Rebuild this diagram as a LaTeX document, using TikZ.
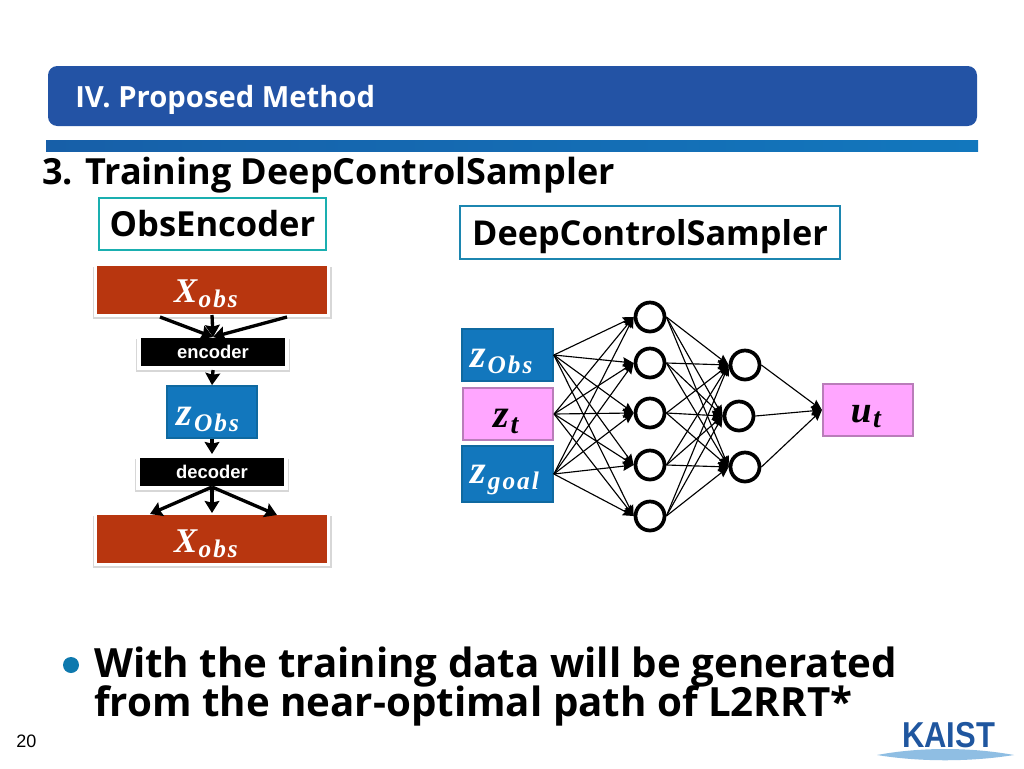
\documentclass[tikz,border=0pt]{standalone}
\usepackage{fontspec}
\usetikzlibrary{arrows.meta,shadows,calc}
\setmainfont{Open Sans}
\newfontfamily\arialf{Liberation Sans}
\newfontfamily\mathf{Liberation Serif}
\definecolor{hdblue}{HTML}{2353A5}
\definecolor{redbox}{HTML}{B8360F}
\definecolor{bluebox}{HTML}{1277BD}
\definecolor{blueedge}{HTML}{0F69A0}
\definecolor{pinkbox}{HTML}{FFA6FF}
\definecolor{pinkedge}{HTML}{B97DB9}
\definecolor{tealedge}{HTML}{1AAFB0}
\definecolor{sampedge}{HTML}{1C86B0}
\definecolor{kaist}{HTML}{1F569F}
\definecolor{kaistl}{HTML}{8FBEE3}
\definecolor{barleft}{HTML}{175FA8}
\def\p{0.75pt}
\newcommand{\mvar}[5][0pt]{\raisebox{#1}[0pt][0pt]{\mathf\bfseries\itshape\fontsize{#4}{#4}\selectfont #2\kern0.04em\raisebox{-0.16em}{\fontsize{#5}{#5}\selectfont\addfontfeature{LetterSpace=8}#3}}}
\tikzset{
  x=0.75pt,y=-0.75pt,
  titlebox/.style={draw=#1,line width=1.7pt,fill=white,inner sep=0pt,font=\bfseries},
  redblock/.style={fill=redbox,draw=white,line width=2pt,inner sep=0pt,minimum width=233*\p,minimum height=51*\p,text=white,
    general shadow={shadow scale=1.025,shadow xshift=0.3pt,shadow yshift=-2.4pt,opacity=.22,fill=black!70}},
  blackblock/.style={fill=black,draw=white,line width=3pt,inner sep=0pt,minimum width=148*\p,minimum height=32*\p,text=white,
    font=\arialf\bfseries\fontsize{13.8}{13.8}\selectfont,
    general shadow={shadow scale=1.04,shadow xshift=0.3pt,shadow yshift=-2.4pt,opacity=.22,fill=black!70}},
  bluevar/.style={fill=bluebox,draw=blueedge,line width=1.3pt,inner sep=0pt,text=white},
  pinkvar/.style={fill=pinkbox,draw=pinkedge,line width=1.6pt,inner sep=0pt,text=black},
  neuron/.style={circle,draw=black,fill=white,line width=2.8pt,minimum size=29*\p,inner sep=0pt},
  thickarrow/.style={line width=2.5pt,-{Stealth[length=9pt,width=11pt,inset=1.2pt]}},
  thinarrow/.style={line width=0.85pt,-{Stealth[length=8pt,width=7pt,inset=1pt]}},
  plain/.style={anchor=base west,inner sep=0pt},
}
\begin{document}
\begin{tikzpicture}
\useasboundingbox (0,0) rectangle (1024,768);
\fill[white] (0,0) rectangle (1024,768);
% header
\node[fill=hdblue,rounded corners=7pt,minimum width=929*\p,minimum height=60*\p,inner sep=0pt] (header) at (512.5,96) {};
\node[plain,text=white,font=\bfseries\fontsize{21.9}{21.9}\selectfont] (headtext) at (75,107) {IV. Proposed Method};
\node[left color=barleft,right color=bluebox,minimum width=932*\p,minimum height=11*\p,inner sep=0pt] (bar) at (512,145.5) {};
\node[plain,font=\bfseries\fontsize{27}{27}\selectfont] (subtitle) at (42,184) {3. Training DeepControlSampler};
% title boxes
\node[titlebox=tealedge,minimum width=227*\p,minimum height=52*\p] (obstitle) at (212.5,224) {\raisebox{-9.5pt}[0pt][0pt]{\fontsize{25.9}{25.9}\selectfont ObsEncoder}};
\node[titlebox=sampedge,minimum width=380*\p,minimum height=53*\p] (samptitle) at (650,232.5) {\raisebox{-9.5pt}[0pt][0pt]{\fontsize{25.7}{25.7}\selectfont DeepControlSampler}};
% left stack
\node[redblock] (xtop) at (212,290) {\hspace*{-9pt}\mvar[-9pt]{X}{obs}{26}{19}};
\node[blackblock] (enc) at (213,352) {encoder};
\node[bluevar,minimum width=90*\p,minimum height=52*\p] (zleft) at (212,412) {\hspace*{-6pt}\mvar[-9.75pt]{z}{Obs}{30}{19}};
\node[blackblock] (dec) at (212,472) {decoder};
\node[redblock] (xbot) at (212,539) {\hspace*{-9pt}\mvar[-9.75pt]{X}{obs}{26}{19}};
\coordinate (ta) at (160,317);
\coordinate (tb) at (212,315);
\coordinate (tc) at (287,317);
\coordinate (tin) at (213,337);
\coordinate (tl) at (150,514);
\coordinate (tm) at (212,513);
\coordinate (tr) at (277,515);
\coordinate (dout) at (212,487);
\draw[thickarrow] (ta) -- (tin);
\draw[thickarrow] (tb) -- (tin);
\draw[thickarrow] (tc) -- (tin);
\draw[thickarrow] (enc.south) -- (zleft.north);
\draw[thickarrow] (zleft.south) -- (dec.north);
\draw[thickarrow] (dout) -- (tl);
\draw[thickarrow] (dout) -- (tm);
\draw[thickarrow] (dout) -- (tr);
% right network
\node[bluevar,minimum width=91*\p,minimum height=52*\p] (in1) at (507.5,355) {\hspace*{-9pt}\mvar[-9pt]{z}{Obs}{30}{19}};
\node[pinkvar,minimum width=90*\p,minimum height=52*\p] (in2) at (508,414) {\hspace*{-3pt}\mvar[-9.75pt]{z}{t}{30}{21}};
\node[bluevar,minimum width=91*\p,minimum height=56*\p] (in3) at (507.5,474) {\hspace*{-4pt}\mvar[-6.75pt]{z}{goal}{30}{19}};
\node[neuron] (a1) at (650,317) {};
\node[neuron] (a2) at (650,363) {};
\node[neuron] (a3) at (650,413) {};
\node[neuron] (a4) at (650,465) {};
\node[neuron] (a5) at (650,516) {};
\node[neuron] (b1) at (745,365) {};
\node[neuron] (b2) at (739,416) {};
\node[neuron] (b3) at (745,467) {};
\node[pinkvar,minimum width=90*\p,minimum height=52*\p] (out) at (868,410) {\hspace*{-3pt}\mvar[-9pt]{u}{t}{28}{21}};
\foreach \i in {1,2,3} \foreach \j in {1,...,5} \draw[thinarrow] (in\i.east) -- (a\j.west);
\foreach \i in {1,...,5} \foreach \j in {1,2,3} \draw[thinarrow] (a\i.east) -- (b\j.west);
\foreach \j in {1,2,3} \draw[thinarrow] (b\j.east) -- (out.west);
% bullet
\node[circle,fill=bluebox!75!teal,minimum size=16*\p,inner sep=0pt] (bullet) at (71,665) {};
\node[plain,font=\bfseries\fontsize{30.2}{30.2}\selectfont] (line1) at (94,677) {With the training data will be generated};
\node[plain,font=\bfseries\fontsize{30.2}{30.2}\selectfont] (line2) at (94,716) {from the near-optimal path of L2RRT*};
\node[plain,font=\arialf\fontsize{13.5}{13.5}\selectfont] (pagenum) at (16,747) {20};
% logo
\fill[kaistl] (877,755) .. controls (920,747) and (970,747) .. (1014,755) .. controls (970,762) and (920,762) .. (877,755) -- cycle;
\node[plain,text=kaist,font=\arialf\bfseries\fontsize{27}{27}\selectfont] (logo) at (902,747) {\scalebox{0.86}[1]{KAIST}};
\end{tikzpicture}
\end{document}
